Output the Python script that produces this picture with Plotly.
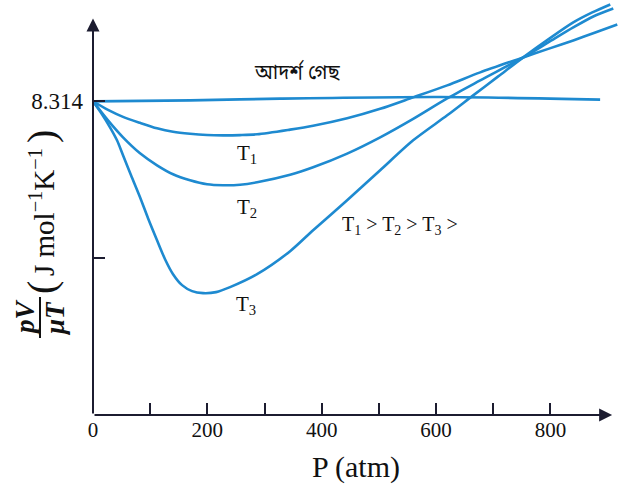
import plotly.graph_objects as go

# ---- data ----
ideal_p = [0, 170, 327, 607, 887]
ideal_v = [8.314, 8.34, 8.385, 8.427, 8.359]

t1_p = [0, 26.25, 52.5, 82.25, 112, 140, 169.75, 199.5, 227.5, 257.25, 287, 344.75, 385, 444.5,
        502.25, 560, 619.5, 677.25, 752.5, 796.25, 840, 878.5, 917]
t1_v = [8.314, 8.088, 7.903, 7.744, 7.599, 7.506, 7.453, 7.421, 7.413, 7.419, 7.440, 7.564, 7.665, 7.863,
        8.115, 8.419, 8.737, 9.081, 9.478, 9.704, 9.929, 10.140, 10.352]

t2_p = [0, 26.25, 52.5, 82.25, 112, 140, 169.75, 199.5, 227.5, 257.25, 287, 344.75, 385, 444.5,
        502.25, 560, 619.5, 677.25, 752.5, 796.25, 840, 875, 910]
t2_v = [8.314, 7.810, 7.360, 6.937, 6.619, 6.381, 6.222, 6.116, 6.090, 6.103, 6.169, 6.368, 6.566, 6.929,
        7.360, 7.850, 8.393, 8.870, 9.478, 9.876, 10.273, 10.564, 10.776]

t3_p = [0, 15.75, 29.75, 42, 52.5, 66.5, 82.25, 96.25, 112, 126, 140, 155.75, 173.25, 192.5, 215.25,
        239.75, 287, 344.75, 385, 444.5, 502.25, 560, 619.5, 665, 708.75, 752.5, 796.25, 840, 873.25, 904.75]
t3_v = [8.314, 7.969, 7.625, 7.281, 6.884, 6.354, 5.772, 5.216, 4.633, 4.130, 3.733, 3.442, 3.283, 3.230, 3.257,
        3.389, 3.733, 4.342, 4.898, 5.692, 6.487, 7.281, 7.943, 8.472, 8.975, 9.478, 9.955, 10.405, 10.670, 10.882]

x_tickvals = [0, 100, 200, 300, 400, 500, 600, 700, 800]
x_ticktext = ["0", "", "200", "", "400", "", "600", "", "800"]
y_tickvals = [4.157, 8.314]
y_ticktext = ["", "8.314"]

LINE = "#1E8AD0"
AX = "#1c1c30"
INK = "#111"
SERIF = "Liberation Serif, Times New Roman, serif"

W, H = 631, 489
ML, MR, MT, MB = 93, 12, 0, 74
PW, PH = W - ML - MR, H - MT - MB

fig = go.Figure()
for p, v in [(ideal_p, ideal_v), (t1_p, t1_v), (t2_p, t2_v), (t3_p, t3_v)]:
    fig.add_trace(go.Scatter(x=p, y=v, mode="lines",
                             line=dict(color=LINE, width=2.6, shape="spline", smoothing=0.8),
                             showlegend=False, hoverinfo="skip"))

# axes with arrow heads
fig.add_annotation(x=908, y=0, ax=0, ay=0, xref="x", yref="y", axref="x", ayref="y",
                   text="", showarrow=True, arrowhead=2, arrowsize=1.3, arrowwidth=2, arrowcolor=AX)
fig.add_annotation(x=0, y=10.51, ax=0, ay=0, xref="x", yref="y", axref="x", ayref="y",
                   text="", showarrow=True, arrowhead=2, arrowsize=1.3, arrowwidth=2, arrowcolor=AX)

def label(x, y, text, size=21, family=SERIF):
    fig.add_annotation(x=x, y=y, xref="x", yref="y", text=text, showarrow=False,
                       xanchor="center", yanchor="middle",
                       font=dict(family=family, size=size, color=INK))

label(357, 9.06, "আদর্শ গেছ", size=20, family="Noto Sans Bengali, Noto Sans, sans-serif")
label(270, 6.91, "T<sub>1</sub>")
label(270, 5.48, "T<sub>2</sub>")
label(267, 2.91, "T<sub>3</sub>")
label(537, 5.03, "T<sub>1</sub> > T<sub>2</sub> > T<sub>3</sub> >", size=20)

# y-axis title (rotated), placed in pixel terms relative to the plot area
def pix(xp, yp):
    return (xp - ML) / PW, (H - MB - yp) / PH

def ytitle(xp, yp, txt, size):
    px, py = pix(xp, yp)
    fig.add_annotation(x=px, y=py, xref="paper", yref="paper", text=txt, showarrow=False,
                       xanchor="center", yanchor="middle",
                       textangle=-90, font=dict(family=SERIF, size=size, color=INK))

ytitle(25, 317, "<b><i>pV</i></b>", 27)
ytitle(55, 319, "<b><i>μT</i></b>", 27)
ytitle(41, 288, "(", 40)
ytitle(42, 212, "J mol<sup>−1</sup>K<sup>−1</sup>", 29)
ytitle(41, 137, ")", 40)
x0, y0 = pix(40, 297)
x1, y1 = pix(40, 338)
fig.add_shape(type="line", xref="paper", yref="paper", x0=x0, x1=x1, y0=y0, y1=y1,
              line=dict(color=INK, width=2))

fig.update_layout(
    width=W, height=H,
    margin=dict(l=ML, r=MR, t=MT, b=MB),
    paper_bgcolor="white", plot_bgcolor="white",
    xaxis=dict(range=[0, 920], showline=False, showgrid=False, zeroline=False,
               tickvals=x_tickvals, ticktext=x_ticktext, ticks="inside", ticklen=12,
               tickwidth=2, tickcolor=AX,
               tickfont=dict(family=SERIF, size=21, color=INK),
               title=dict(text="P (atm)", font=dict(family=SERIF, size=30, color=INK), standoff=14)),
    yaxis=dict(range=[0, 11], showline=False, showgrid=False, zeroline=False,
               tickvals=y_tickvals, ticktext=y_ticktext, ticks="inside", ticklen=12,
               tickwidth=2, tickcolor=AX, ticklabelstandoff=9,
               tickfont=dict(family=SERIF, size=23, color=INK)),
)

fig.write_html("out.html", config={"displayModeBar": False},
               post_script="document.body.style.margin='0px';")
